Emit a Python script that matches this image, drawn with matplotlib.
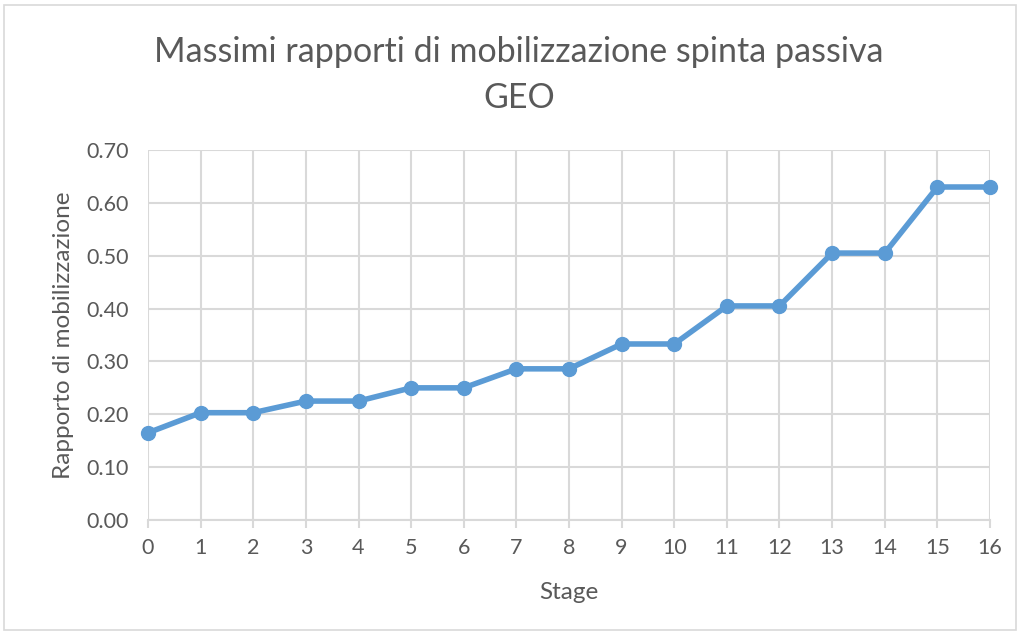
import matplotlib
matplotlib.use('Agg')
import matplotlib.pyplot as plt
from matplotlib.patches import Rectangle

plt.rcParams['font.family'] = ['Lato', 'DejaVu Sans']

# Data
stages = list(range(17))
ratios = [0.165, 0.203, 0.203, 0.225, 0.225, 0.250, 0.250, 0.286, 0.286,
          0.333, 0.333, 0.405, 0.405, 0.505, 0.505, 0.630, 0.630]
y_ticks = [0.0, 0.1, 0.2, 0.3, 0.4, 0.5, 0.6, 0.7]

text_col = '#595959'
grid_col = '#D9D9D9'
line_col = '#5B9BD5'

fig = plt.figure(figsize=(10.2, 6.33), dpi=100)
ax = fig.add_axes([148/1020, 1 - 520/633, (990-148)/1020, (520-150)/633])

# outer chart border
fig.patches.append(Rectangle((4/1020, 3/633), 1 - 8/1020, 1 - 8/633,
                             transform=fig.transFigure, fill=False,
                             edgecolor='#D9D9D9', lw=1.2))

ax.plot(stages, ratios, color=line_col, lw=4, marker='o', ms=10,
        solid_capstyle='round', zorder=3, clip_on=False)

ax.set_xlim(0, 16)
ax.set_ylim(0, 0.7)
ax.set_xticks(stages)
ax.set_yticks(y_ticks)
ax.set_yticklabels([f'{v:.2f}' for v in y_ticks])
ax.grid(True, color=grid_col, lw=1.5)
ax.set_axisbelow(True)

for s in ['top', 'right', 'left']:
    ax.spines[s].set_visible(False)
ax.spines['bottom'].set_color(grid_col)
ax.spines['bottom'].set_linewidth(1.5)
ax.tick_params(axis='x', colors=grid_col, length=6, width=1.5,
               labelcolor=text_col, labelsize=15.5, pad=7)
ax.tick_params(axis='y', length=0, labelcolor=text_col, labelsize=15.5, pad=14)

ax.set_xlabel('Stage', color=text_col, fontsize=17.5, labelpad=17)
ax.set_ylabel('Rapporto di mobilizzazione', color=text_col, fontsize=17.5, labelpad=9)

fig.text(0.509, 1 - 52/633, 'Massimi rapporti di mobilizzazione spinta passiva',
         ha='center', va='center', color=text_col, fontsize=24.5)
fig.text(0.509, 1 - 98/633, 'GEO', ha='center', va='center', color=text_col, fontsize=24.5)

fig.savefig('out.png', dpi=100)
